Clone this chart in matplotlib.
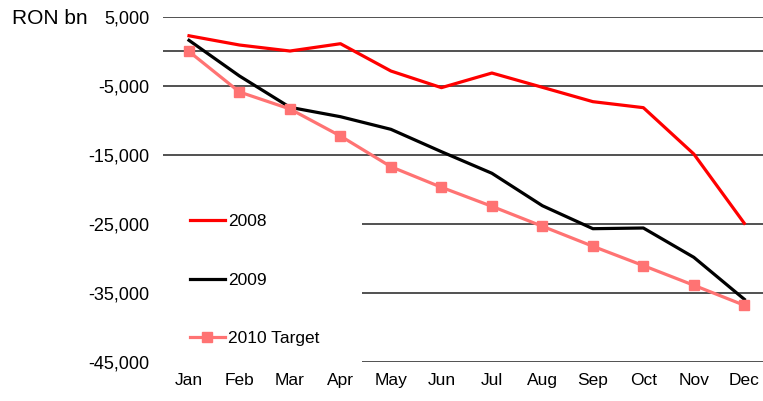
import matplotlib.pyplot as plt
from matplotlib.patches import Rectangle

# ---- data (RON bn, cumulative budget balance) ----
months = ['Jan', 'Feb', 'Mar', 'Apr', 'May', 'Jun',
          'Jul', 'Aug', 'Sep', 'Oct', 'Nov', 'Dec']
y2008 = [2280, 940, 70, 1130, -2830, -5240, -3120, -5190, -7270, -8140, -14860, -24900]
y2009 = [1620, -3550, -8090, -9450, -11280, -14520, -17650, -22350, -25680, -25580, -29830, -35910]
target2010 = [0, -5870, -8330, -12250, -16700, -19680, -22440, -25330, -28230, -31030, -33880, -36780]
yticks = [5000, -5000, -15000, -25000, -35000, -45000]

plt.rcParams['font.family'] = ['Liberation Sans', 'DejaVu Sans']

fig = plt.figure(figsize=(7.63, 4.01), dpi=100)
ax = fig.add_axes([163 / 763, 1 - 362 / 401, 600 / 763, 345 / 401])

x = list(range(len(months)))

# gridlines
for t in yticks + [0]:
    ax.axhline(t, color='#222222', lw=1.1, zorder=1)

# white box behind legend hides the gridlines there
ax.add_patch(Rectangle((0, -0.03), 199 / 600, 0.53, transform=ax.transAxes,
                       facecolor='white', edgecolor='none', zorder=2, clip_on=False))

ax.plot(x, y2008, color='#FF0000', lw=2.3, label='2008', zorder=3)
ax.plot(x, y2009, color='#000000', lw=2.3, label='2009', zorder=3)
ax.plot(x, target2010, color='#FF7373', lw=2.3, marker='s', markersize=7,
        label='2010 Target', zorder=4)

ax.set_xlim(-0.515, 11.37)
ax.set_ylim(-45000, 5000)
ax.set_xticks(x)
ax.set_xticklabels(months)
ax.set_yticks(yticks)
ax.set_yticklabels([f'{v:,}' for v in yticks])
ax.tick_params(axis='both', length=0, colors='black')
ax.tick_params(axis='y', pad=10, labelsize=13)
ax.tick_params(axis='x', pad=8, labelsize=12.5)
for s in ax.spines.values():
    s.set_visible(False)

fig.text(12 / 763, 1 - 18 / 401, 'RON bn', fontsize=15, va='center', ha='left')

leg = ax.legend(loc='upper left', bbox_to_anchor=(190 / 763, 1 - 214 / 401),
                bbox_transform=fig.transFigure, frameon=False, fontsize=12.5,
                handlelength=2.0, handletextpad=0.2, labelspacing=2.5,
                borderpad=0, borderaxespad=0)

fig.savefig('out.png', dpi=100)
